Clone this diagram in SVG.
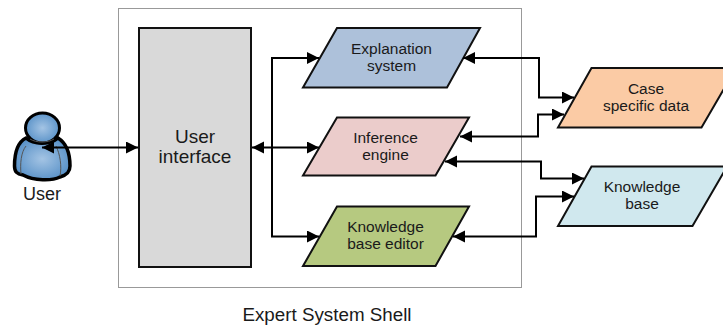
<svg xmlns="http://www.w3.org/2000/svg" width="723" height="327" viewBox="0 0 723 327">
<style>
text{font-family:"Liberation Sans",Arial,sans-serif;fill:#1a1a1a;text-anchor:middle}
.t{font-size:15.500px}
.p{stroke:#111;stroke-width:2}
.c{fill:none;stroke:#000;stroke-width:2}
</style>
<defs>
<marker id="a" markerUnits="userSpaceOnUse" markerWidth="13" markerHeight="13" refX="12" refY="6" orient="auto-start-reverse"><path d="M0 0L12 6L0 12Z" fill="#000"/></marker>
<radialGradient id="g" cx="0.5" cy="0.5" r="0.6"><stop offset="0" stop-color="#a4c4e4"/><stop offset="1" stop-color="#4f8bc4"/></radialGradient>
</defs>
<rect width="723" height="327" fill="#fff"/>
<rect id="shell" x="118.500" y="8.500" width="403" height="279" fill="none" stroke="#999" stroke-width="1"/>
<g id="user">
<path d="M26 138C18 142 14.500 152 14.500 166C14.500 172 17 174 23 175C34 181 52 181 60 177C67 175 70 172 70 166C70 152 66 143 58 138C50 145 34 145 26 138Z" fill="url(#g)" stroke="#000" stroke-width="3.500"/>
<path d="M21 174C20 164 21 152 26 146M60 176C62 166 60 154 56 146" fill="none" stroke="#555" stroke-width="1"/>
<ellipse cx="42.500" cy="128" rx="17" ry="15" fill="url(#g)" stroke="#000" stroke-width="3"/>
<path d="M30 139C36 143 48 143 54 139" fill="none" stroke="#555" stroke-width="1"/>
<text x="42" y="200" font-size="18">User</text>
</g>
<g id="user-interface">
<rect x="139" y="28" width="112" height="239" fill="#d9d9d9" stroke="#111" stroke-width="2"/>
<text x="195" y="143" font-size="19">User</text>
<text x="195" y="163" font-size="19">interface</text>
</g>
<g id="explanation-system">
<path class="p" d="M337 28H480L447 87.500H303Z" fill="#adc1da"/>
<text class="t" x="391.500" y="54">Explanation</text>
<text class="t" x="391.500" y="71">system</text>
</g>
<g id="inference-engine">
<path class="p" d="M337 117.500H469L435.500 175.500H303Z" fill="#ebcccb"/>
<text class="t" x="385.500" y="143">Inference</text>
<text class="t" x="385.500" y="160">engine</text>
</g>
<g id="knowledge-base-editor">
<path class="p" d="M337 206.500H469L435.500 266H303Z" fill="#b6c980"/>
<text class="t" x="385.500" y="232">Knowledge</text>
<text class="t" x="385.500" y="249">base editor</text>
</g>
<g id="case-specific-data">
<path class="p" d="M591.500 68H736L701.500 127.500H558Z" fill="#fbcba5"/>
<text class="t" x="646" y="94">Case</text>
<text class="t" x="646" y="111">specific data</text>
</g>
<g id="knowledge-base">
<path class="p" d="M591.500 166.500H727L692.500 226H558Z" fill="#d0e8ee"/>
<text class="t" x="642" y="192">Knowledge</text>
<text class="t" x="642" y="209">base</text>
</g>
<g id="connectors">
<path class="c" d="M42 147.500H138" marker-start="url(#a)" marker-end="url(#a)"/>
<path class="c" d="M252 147.500H319" marker-start="url(#a)" marker-end="url(#a)"/>
<path class="c" d="M319 58H272V236.500H319" marker-start="url(#a)" marker-end="url(#a)"/>
<path class="c" d="M463 58H539V97.500H574" marker-start="url(#a)" marker-end="url(#a)"/>
<path class="c" d="M460 136.500H538V114.500H564" marker-start="url(#a)" marker-end="url(#a)"/>
<path class="c" d="M445 161.500H541V178.500H584" marker-start="url(#a)" marker-end="url(#a)"/>
<path class="c" d="M453 236.500H536V196.500H574" marker-start="url(#a)" marker-end="url(#a)"/>
</g>
<text id="title" x="327" y="321" font-size="18.800">Expert System Shell</text>
</svg>
